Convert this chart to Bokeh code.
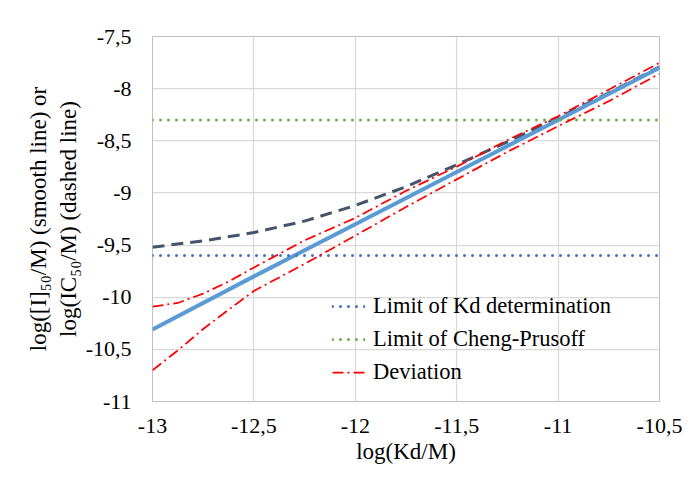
from bokeh.plotting import figure
from bokeh.models import Range1d, FixedTicker, Legend, LegendItem, CustomJSTickFormatter
from bokeh.embed import file_html
from bokeh.resources import INLINE

# ---------------- data ----------------
kd_i50 = [-13.0, -12.5, -12.0, -11.5, -11.0, -10.5]
i50 = [-10.31, -9.80, -9.30, -8.80, -8.30, -7.80]

kd_ic50 = [-13.0, -12.75, -12.5, -12.25, -12.0, -11.75, -11.5, -11.25, -11.0, -10.75, -10.5]
ic50 = [-9.52, -9.46, -9.38, -9.27, -9.12, -8.94, -8.73, -8.51, -8.28, -8.04, -7.79]

kd_dev = [-13.0, -12.875, -12.75, -12.625, -12.5, -12.25, -12.0, -11.75, -11.5, -11.25, -11.0, -10.75, -10.5]
dev_upper = [-10.09, -10.055, -9.965, -9.85, -9.715, -9.455, -9.24, -8.98, -8.748, -8.493, -8.265, -8.01, -7.752]
dev_lower = [-10.70, -10.51, -10.305, -10.12, -9.94, -9.68, -9.41, -9.135, -8.87, -8.606, -8.36, -8.12, -7.857]

kd_limits = [-13.0, -10.5]
limit_kd = -9.6
limit_cp = -8.3

x_ticks = [-13, -12.5, -12, -11.5, -11, -10.5]
x_tick_labels = ["-13", "-12,5", "-12", "-11,5", "-11", "-10,5"]
y_ticks = [-11, -10.5, -10, -9.5, -9, -8.5, -8, -7.5]
y_tick_labels = ["-11", "-10,5", "-10", "-9,5", "-9", "-8,5", "-8", "-7,5"]

x_title = "log(Kd/M)"
y_title = "log([I]\u2085\u2080/M) (smooth line) or\nlog(IC\u2085\u2080/M) (dashed line)"
legend_labels = ["Limit of Kd determination", "Limit of Cheng-Prusoff", "Deviation"]

# ---------------- figure ----------------
FONT = "Liberation Serif"
X0, X1, Y0, Y1 = -13.0, -10.5, -11.0, -7.5
FL, FR, FT, FB = 152, 659, 36, 401  # plot frame in reference-image pixels

p = figure(width=688, height=483,
           x_range=Range1d(X0, X1), y_range=Range1d(Y0, Y1),
           output_backend="svg", toolbar_location=None,
           min_border_left=FL, min_border_right=688 - FR,
           min_border_top=FT, min_border_bottom=483 - FB)
p.background_fill_color = "white"
p.border_fill_color = "white"
p.outline_line_color = "#bfbfbf"
p.outline_line_width = 1

p.axis.axis_line_color = None
p.axis.major_tick_line_color = None
p.axis.minor_tick_line_color = None
p.axis.major_tick_out = 0
p.axis.major_tick_in = 0
p.axis.minor_tick_out = 0
p.axis.minor_tick_in = 0
p.axis.major_label_text_font = FONT
p.axis.major_label_text_font_size = "22px"
p.axis.major_label_text_color = "black"

p.xaxis.ticker = FixedTicker(ticks=x_ticks)
p.xaxis.formatter = CustomJSTickFormatter(
    args=dict(tvals=x_ticks, tlabels=x_tick_labels),
    code="const i = tvals.indexOf(tick); return i >= 0 ? tlabels[i] : String(tick);")
p.xaxis.major_label_standoff = 17
p.yaxis.ticker = FixedTicker(ticks=y_ticks)
p.yaxis.major_label_overrides = dict(zip(y_ticks, y_tick_labels))
p.yaxis.major_label_standoff = 21

p.xaxis.axis_label = x_title
p.xaxis.axis_label_text_font = FONT
p.xaxis.axis_label_text_font_size = "23px"
p.xaxis.axis_label_text_font_style = "normal"
p.xaxis.axis_label_text_color = "black"
p.xaxis.axis_label_standoff = 3
p.yaxis.axis_label = y_title
p.yaxis.axis_label_text_font = FONT
p.yaxis.axis_label_text_font_size = "23px"
p.yaxis.axis_label_text_font_style = "normal"
p.yaxis.axis_label_text_color = "black"
p.yaxis.axis_label_standoff = 2

p.xgrid.grid_line_color = "#d9d9d9"
p.ygrid.grid_line_color = "#d9d9d9"
p.xgrid.grid_line_width = 1.25
p.ygrid.grid_line_width = 1.25

# ---------------- series ----------------
p.line(kd_ic50, ic50, line_color="#44546a", line_width=3, line_dash="12 7")
p.line(kd_i50, i50, line_color="#5b9bd5", line_width=4)
r_kd = p.line(kd_limits, [limit_kd, limit_kd], line_color="#4472c4", line_width=3,
              line_dash="0 8", line_cap="round")
r_cp = p.line(kd_limits, [limit_cp, limit_cp], line_color="#70ad47", line_width=3,
              line_dash="0 8", line_cap="round")
r_dev = p.line(kd_dev, dev_upper, line_color="#ff0000", line_width=1.75, line_dash="11 4 2 4")
p.line(kd_dev, dev_lower, line_color="#ff0000", line_width=1.75, line_dash="11 4 2 4")

legend = Legend(items=[LegendItem(label=legend_labels[0], renderers=[r_kd]),
                       LegendItem(label=legend_labels[1], renderers=[r_cp]),
                       LegendItem(label=legend_labels[2], renderers=[r_dev])],
                location=(180, 16),
                label_text_font=FONT, label_text_font_size="22.5px", label_text_color="black",
                label_text_font_style="normal",
                border_line_color=None, background_fill_alpha=0, padding=0, margin=0,
                glyph_width=33, glyph_height=26, label_height=26, spacing=7, label_standoff=8)
p.add_layout(legend)

open("out.html", "w").write(file_html(p, INLINE))
